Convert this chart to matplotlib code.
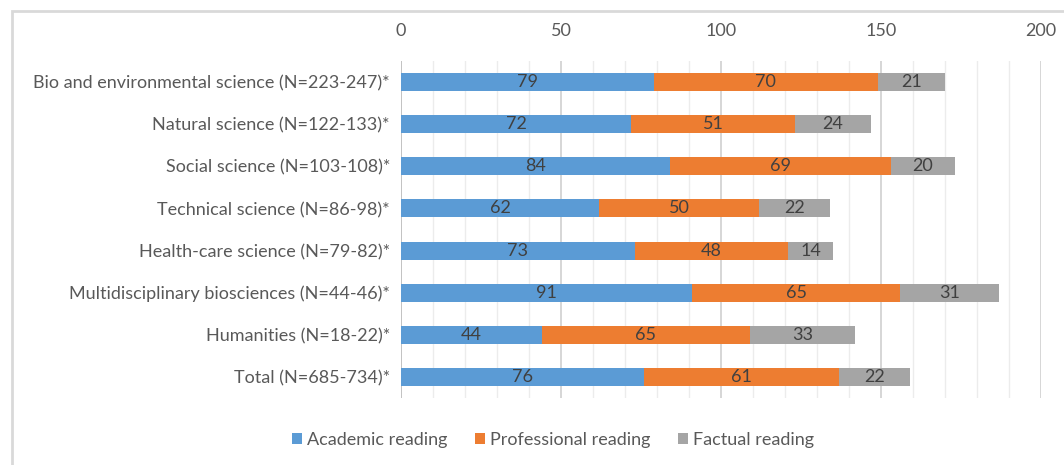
import matplotlib
matplotlib.use("Agg")
import matplotlib.pyplot as plt
from matplotlib.patches import Rectangle, Patch
from matplotlib.ticker import MultipleLocator

plt.rcParams['font.family'] = ['Lato', 'DejaVu Sans']

categories = [
    "Bio and environmental science (N=223-247)*",
    "Natural science (N=122-133)*",
    "Social science (N=103-108)*",
    "Technical science (N=86-98)*",
    "Health-care science (N=79-82)*",
    "Multidisciplinary biosciences (N=44-46)*",
    "Humanities (N=18-22)*",
    "Total (N=685-734)*",
]
academic = [79, 72, 84, 62, 73, 91, 44, 76]
professional = [70, 51, 69, 50, 48, 65, 65, 61]
factual = [21, 24, 20, 22, 14, 31, 33, 22]
series_names = ["Academic reading", "Professional reading", "Factual reading"]
colors = ["#5B9BD5", "#ED7D31", "#A5A5A5"]

W, H = 1064, 465
fig = plt.figure(figsize=(W / 100, H / 100), dpi=100)
ax = fig.add_axes([401 / W, 1 - 398 / H, 640 / W, 337 / H])

# outer chart frame
fig.patches.append(Rectangle((12 / W, -0.1), 1.2, (1 - 11 / H) + 0.1,
                             transform=fig.transFigure, fill=False,
                             edgecolor="#d9d9d9", linewidth=2, zorder=0))

y = list(range(len(categories)))
left = [0] * len(categories)
text_color = "#404040"
for vals, col, name in zip([academic, professional, factual], colors, series_names):
    bars = ax.barh(y, vals, left=left, height=0.43, color=col, label=name, zorder=3)
    for b, v in zip(bars, vals):
        ax.text(b.get_x() + b.get_width() / 2, b.get_y() + b.get_height() / 2, str(v),
                ha="center", va="center", fontsize=13, color=text_color, zorder=4)
    left = [l + v for l, v in zip(left, vals)]

ax.set_xlim(0, 200)
ax.set_ylim(len(categories) - 0.5, -0.5)
ax.xaxis.set_major_locator(MultipleLocator(50))
ax.xaxis.set_minor_locator(MultipleLocator(10))
ax.xaxis.tick_top()
ax.grid(axis="x", which="major", color="#d0d0d0", linewidth=1.2, zorder=0)
ax.grid(axis="x", which="minor", color="#ececec", linewidth=1.0, zorder=0)
ax.tick_params(axis="x", which="both", length=0, labelsize=13, labelcolor="#595959", pad=16)
ax.set_yticks(y)
ax.set_yticklabels(categories)
ax.tick_params(axis="y", length=0, labelsize=13, labelcolor="#595959", pad=8)
for s in ax.spines.values():
    s.set_visible(False)
ax.axvline(0, color="#bfbfbf", linewidth=1.2, zorder=2)

handles = [Patch(facecolor=c, label=n) for c, n in zip(colors, series_names)]
fig.legend(handles=handles, loc="center", bbox_to_anchor=(553 / W, 1 - 440 / H),
           ncol=3, frameon=False, fontsize=13, labelcolor="#595959",
           handlelength=0.55, handleheight=0.55, handletextpad=0.3, columnspacing=1.5)

fig.savefig("out.png", dpi=100)
